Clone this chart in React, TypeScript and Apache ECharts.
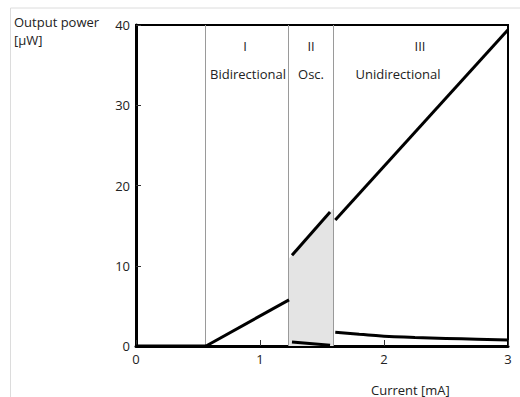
import React, { useEffect, useRef } from "react";
import * as echarts from "echarts";

const xTicks = [0, 1, 2, 3];
const yTicks = [0, 10, 20, 30, 40];
const regionBounds = [0.565, 1.234, 1.589];
const offSeg: number[][] = [[0, 0], [0.565, 0]];
const bidirSeg: number[][] = [[0.565, 0], [1.234, 5.75]];
const oscUpper: number[][] = [[1.258, 11.3], [1.565, 16.7]];
const oscLower: number[][] = [[1.258, 0.5], [1.565, 0.1]];
const oscFill: number[][] = [[1.234, 10.9], [1.589, 17.1]];
const uniUpper: number[][] = [[1.607, 15.7], [3, 39.4]];
const uniLower: number[][] = [[1.607, 1.7], [1.8, 1.45], [2, 1.22], [2.25, 1.07], [2.5, 0.95], [2.75, 0.85], [3, 0.75]];
const regionNumerals = ["I", "II", "III"];
const regionNames = ["Bidirectional", "Osc.", "Unidirectional"];

const FONT = "Open Sans";

export default function App() {
  const ref = useRef<HTMLDivElement>(null);
  useEffect(() => {
    if (!ref.current) return;
    const chart = echarts.init(ref.current, undefined, { renderer: "svg" });
    const black = "#000";
    const lineSeries = (data: number[][], z = 5) => ({
      type: "line",
      data,
      symbol: "none",
      lineStyle: { color: black, width: 3 },
      z,
      silent: true,
    });
    const textStyle = { fontFamily: FONT, fontSize: 13, fill: "#222" };
    chart.setOption({
      animation: false,
      textStyle: { fontFamily: FONT },
      grid: {
        left: 136,
        top: 25,
        width: 372,
        height: 321,
        show: true,
        borderColor: black,
        borderWidth: 2,
        backgroundColor: "transparent",
      },
      xAxis: {
        type: "value",
        min: xTicks[0],
        max: xTicks[xTicks.length - 1],
        interval: 1,
        axisLine: { lineStyle: { color: black, width: 3 } },
        axisTick: { inside: true, length: 6, lineStyle: { color: "#333", width: 1 } },
        splitLine: { show: false },
        axisLabel: { color: "#222", fontSize: 13, fontFamily: FONT, margin: 6 },
      },
      yAxis: {
        type: "value",
        min: yTicks[0],
        max: yTicks[yTicks.length - 1],
        interval: 10,
        axisLine: { show: true, lineStyle: { color: black, width: 3 } },
        axisTick: { show: true, inside: true, length: 5, lineStyle: { color: "#333", width: 1 } },
        splitLine: { show: false },
        axisLabel: { color: "#222", fontSize: 13, fontFamily: FONT, margin: 6 },
      },
      series: [
        {
          type: "line",
          data: oscFill,
          symbol: "none",
          lineStyle: { width: 0 },
          areaStyle: { color: "#e4e4e4", opacity: 1 },
          z: 1,
          silent: true,
          markLine: {
            silent: true,
            symbol: ["none", "none"],
            label: { show: false },
            lineStyle: { color: "#9a9a9a", width: 1, type: "solid" },
            data: regionBounds.map((x) => ({ xAxis: x })),
          },
        },
        lineSeries(offSeg),
        lineSeries(bidirSeg),
        lineSeries(oscUpper),
        lineSeries(oscLower),
        lineSeries(uniUpper),
        { ...lineSeries(uniLower), smooth: true },
      ],
      graphic: [
        { type: "line", shape: { x1: 10.5, y1: 8, x2: 520, y2: 8 }, style: { stroke: "#dcdcdc", lineWidth: 1 } },
        { type: "line", shape: { x1: 10.5, y1: 8, x2: 10.5, y2: 397 }, style: { stroke: "#dcdcdc", lineWidth: 1 } },
        { type: "text", left: 14, top: 15, style: { ...textStyle, text: "Output power", fill: "#222" } },
        { type: "text", left: 14, top: 33, style: { ...textStyle, text: "[\u00b5W]", fill: "#222" } },
        { type: "text", left: 371, top: 383, style: { ...textStyle, text: "Current [mA]", align: "center" } },
        { type: "text", x: 245, y: 46, style: { ...textStyle, text: regionNumerals[0], align: "center", verticalAlign: "middle" } },
        { type: "text", x: 311, y: 46, style: { ...textStyle, text: regionNumerals[1], align: "center", verticalAlign: "middle" } },
        { type: "text", x: 420, y: 46, style: { ...textStyle, text: regionNumerals[2], align: "center", verticalAlign: "middle" } },
        { type: "text", x: 248, y: 74, style: { ...textStyle, text: regionNames[0], align: "center", verticalAlign: "middle" } },
        { type: "text", x: 311, y: 74, style: { ...textStyle, text: regionNames[1], align: "center", verticalAlign: "middle" } },
        { type: "text", x: 398, y: 74, style: { ...textStyle, text: regionNames[2], align: "center", verticalAlign: "middle" } },
      ],
    });
    return () => chart.dispose();
  }, []);
  return (
    <div
      ref={ref}
      style={{ position: "fixed", left: 0, top: 0, width: 520, height: 397, background: "#fff" }}
    />
  );
}
